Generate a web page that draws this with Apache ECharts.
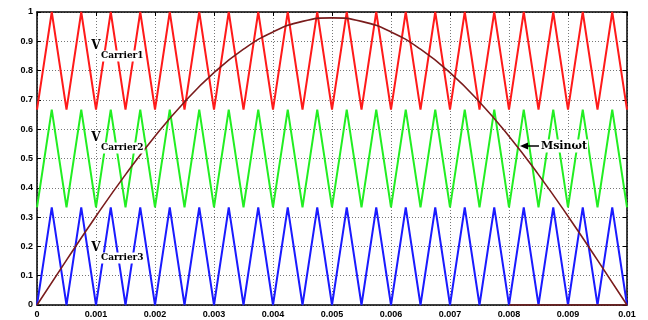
<!DOCTYPE html>
<html>
<head>
<meta charset="utf-8">
<script src="https://cdn.jsdelivr.net/npm/echarts@6/dist/echarts.min.js"></script>
<style>
  html, body { margin: 0; padding: 0; background: #fff; }
  #main { width: 648px; height: 320px; }
</style>
</head>
<body>
<div id="main"></div>
<script>
// carrier vertex times (every quarter period, period 0.0005 s)
const carrierTimes = [
  0, 0.00025, 0.0005, 0.00075, 0.001, 0.00125, 0.0015, 0.00175, 0.002, 0.00225,
  0.0025, 0.00275, 0.003, 0.00325, 0.0035, 0.00375, 0.004, 0.00425, 0.0045, 0.00475,
  0.005, 0.00525, 0.0055, 0.00575, 0.006, 0.00625, 0.0065, 0.00675, 0.007, 0.00725,
  0.0075, 0.00775, 0.008, 0.00825, 0.0085, 0.00875, 0.009, 0.00925, 0.0095, 0.00975, 0.01
];
const carrier1 = [
  0.667, 1, 0.667, 1, 0.667, 1, 0.667, 1, 0.667, 1,
  0.667, 1, 0.667, 1, 0.667, 1, 0.667, 1, 0.667, 1,
  0.667, 1, 0.667, 1, 0.667, 1, 0.667, 1, 0.667, 1,
  0.667, 1, 0.667, 1, 0.667, 1, 0.667, 1, 0.667, 1, 0.667
];
const carrier2 = [
  0.333, 0.667, 0.333, 0.667, 0.333, 0.667, 0.333, 0.667, 0.333, 0.667,
  0.333, 0.667, 0.333, 0.667, 0.333, 0.667, 0.333, 0.667, 0.333, 0.667,
  0.333, 0.667, 0.333, 0.667, 0.333, 0.667, 0.333, 0.667, 0.333, 0.667,
  0.333, 0.667, 0.333, 0.667, 0.333, 0.667, 0.333, 0.667, 0.333, 0.667, 0.333
];
const carrier3 = [
  0, 0.333, 0, 0.333, 0, 0.333, 0, 0.333, 0, 0.333,
  0, 0.333, 0, 0.333, 0, 0.333, 0, 0.333, 0, 0.333,
  0, 0.333, 0, 0.333, 0, 0.333, 0, 0.333, 0, 0.333,
  0, 0.333, 0, 0.333, 0, 0.333, 0, 0.333, 0, 0.333, 0
];

// modulating wave, read every 0.0005 s
const sineTimes = [
  0, 0.0005, 0.001, 0.0015, 0.002, 0.0025, 0.003, 0.0035, 0.004, 0.0045,
  0.005, 0.0055, 0.006, 0.0065, 0.007, 0.0075, 0.008, 0.0085, 0.009, 0.0095, 0.01
];
const sineValues = [
  0, 0.153, 0.303, 0.445, 0.576, 0.693, 0.793, 0.873, 0.932, 0.968,
  0.98, 0.968, 0.932, 0.873, 0.793, 0.693, 0.576, 0.445, 0.303, 0.153, 0
];
const tailTimes = [0.008, 0.01];
const tailValues = [0, 0];

const xTicks = ['0', '0.001', '0.002', '0.003', '0.004', '0.005', '0.006', '0.007', '0.008', '0.009', '0.01'];
const yTicks = ['0', '0.1', '0.2', '0.3', '0.4', '0.5', '0.6', '0.7', '0.8', '0.9', '1'];

const pairs = (xs, ys) => xs.map((x, i) => [x, ys[i]]);

const chart = echarts.init(document.getElementById('main'));

const serif = '"DejaVu Serif", "Liberation Serif", serif';

function carrierLabel(x, y, sub) {
  return [
    { type: 'text', x: x, y: y, z: 10,
      style: { text: 'V', font: 'bold 12px ' + serif, fill: '#000',
        align: 'center', verticalAlign: 'middle', backgroundColor: '#fff', padding: [0, 1] } },
    { type: 'text', x: x + 4, y: y + 10, z: 10,
      style: { text: sub, font: 'bold 9px ' + serif, fill: '#000',
        align: 'left', verticalAlign: 'middle', backgroundColor: '#fff', padding: [1, 1] } }
  ];
}

const frameAxis = {
  axisLine: { show: true, onZero: false, lineStyle: { color: '#000', width: 1.5 } },
  axisTick: { show: true, inside: true, length: 4, lineStyle: { color: '#000', width: 1 } }
};
const tickFont = {
  color: '#000', fontSize: 9, fontWeight: 'bold', fontFamily: '"Liberation Sans", Arial, sans-serif'
};
const gridLine = { show: true, lineStyle: { color: '#777', type: [1, 2], width: 1 } };

const option = {
  animation: false,
  backgroundColor: '#fff',
  grid: { left: 37, right: 21, top: 12, bottom: 15 },
  xAxis: [
    Object.assign({
      type: 'value', min: 0, max: 0.01, interval: 0.001,
      axisLabel: Object.assign({ margin: 5, formatter: (v) => xTicks[Math.round(v * 1000)] }, tickFont),
      splitLine: gridLine
    }, frameAxis),
    Object.assign({
      type: 'value', position: 'top', min: 0, max: 0.01, interval: 0.001,
      axisLabel: { show: false }, splitLine: { show: false }
    }, frameAxis)
  ],
  yAxis: [
    Object.assign({
      type: 'value', min: 0, max: 1, interval: 0.1,
      axisLabel: Object.assign({ margin: 4, formatter: (v) => yTicks[Math.round(v * 10)] }, tickFont),
      splitLine: gridLine
    }, frameAxis),
    Object.assign({
      type: 'value', position: 'right', min: 0, max: 1, interval: 0.1,
      axisLabel: { show: false }, splitLine: { show: false }
    }, frameAxis)
  ],
  series: [
    { name: 'Carrier1', type: 'line', data: pairs(carrierTimes, carrier1), showSymbol: false,
      lineStyle: { color: '#ff1a1a', width: 2 } },
    { name: 'Carrier2', type: 'line', data: pairs(carrierTimes, carrier2), showSymbol: false,
      lineStyle: { color: '#22ee22', width: 2 } },
    { name: 'Carrier3', type: 'line', data: pairs(carrierTimes, carrier3), showSymbol: false,
      lineStyle: { color: '#1a1aff', width: 2 } },
    { name: 'Msinwt', type: 'line', data: pairs(sineTimes, sineValues), showSymbol: false, smooth: true,
      lineStyle: { color: '#7a1c1c', width: 1.6 } },
    { name: 'tail', type: 'line', data: pairs(tailTimes, tailValues), showSymbol: false,
      lineStyle: { color: '#7a1c1c', width: 1.6 } }
  ],
  graphic: [
    ...carrierLabel(96, 46, 'Carrier1'),
    ...carrierLabel(96, 138, 'Carrier2'),
    ...carrierLabel(96, 248, 'Carrier3'),
    { type: 'polygon', z: 10, shape: { points: [[520, 146], [528, 142.5], [528, 149.5]] },
      style: { fill: '#000' } },
    { type: 'line', z: 10, shape: { x1: 526, y1: 146, x2: 539, y2: 146 },
      style: { stroke: '#000', lineWidth: 1.5 } },
    { type: 'text', x: 540, y: 146, z: 10,
      style: { text: 'Msinωt', font: 'bold 11px ' + serif, fill: '#000',
        align: 'left', verticalAlign: 'middle', backgroundColor: '#fff', padding: [1, 1] } }
  ]
};

chart.setOption(option);
</script>
</body>
</html>
